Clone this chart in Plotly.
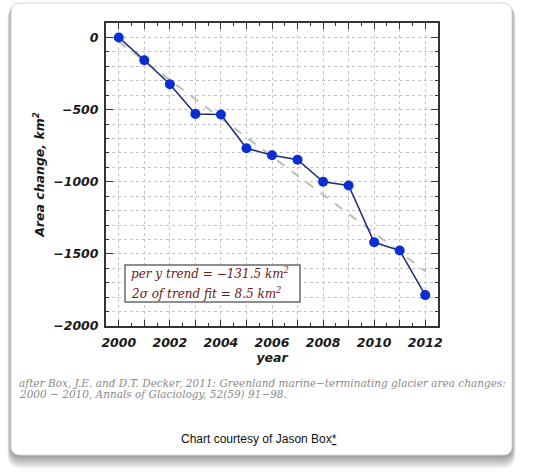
"""
Greenland marine-terminating glacier area change, 2000-2012
"""
import plotly.graph_objects as go

# data
years = [2000, 2001, 2002, 2003, 2004, 2005, 2006, 2007, 2008, 2009, 2010, 2011, 2012]
area_change = [0, -158, -325, -530, -534, -768, -817, -848, -1000, -1026, -1420, -1477, -1786]

trend_years = [2000, 2012]
trend_values = [-30, -1620]

x_tickvals = list(range(2000, 2013))
x_ticktext = [str(y) if y % 2 == 0 else "" for y in x_tickvals]

trend_lines = ["per y trend = \u2212131.5 km<sup>2</sup>",
               "2\u03c3 of trend fit = 8.5 km<sup>2</sup>"]
citation_lines = [
    "after Box, J.E. and D.T. Decker, 2011: Greenland marine\u2212terminating glacier area changes:",
    "2000 \u2212 2010, Annals of Glaciology, 52(59) 91\u221298.",
]
credit = "Chart courtesy of Jason Box<u>*</u>"

# page geometry in pixels
W, H = 536, 474
L, R, T, B = 106, 438, 23, 326


def px(x):
    return (x - L) / (R - L)


def py(y):
    return (B - y) / (B - T)


def rounded_rect(x0, y0, x1, y1, r):
    """SVG path for a rounded rectangle given in pixels, output in paper units"""
    pts = [
        f"M {px(x0 + r)} {py(y0)}",
        f"L {px(x1 - r)} {py(y0)}",
        f"Q {px(x1)} {py(y0)} {px(x1)} {py(y0 + r)}",
        f"L {px(x1)} {py(y1 - r)}",
        f"Q {px(x1)} {py(y1)} {px(x1 - r)} {py(y1)}",
        f"L {px(x0 + r)} {py(y1)}",
        f"Q {px(x0)} {py(y1)} {px(x0)} {py(y1 - r)}",
        f"L {px(x0)} {py(y0 + r)}",
        f"Q {px(x0)} {py(y0)} {px(x0 + r)} {py(y0)}",
        "Z",
    ]
    return " ".join(pts)


tick_font = dict(family="DejaVu Sans", size=12.5, color="#1a1a1a", style="italic", weight="bold")
title_font = dict(family="DejaVu Sans", size=12.5, color="#1a1a1a", style="italic", weight="bold")

fig = go.Figure()

fig.add_trace(go.Scatter(
    x=trend_years, y=trend_values,
    mode="lines",
    line=dict(color="#b9c0b4", width=2, dash="dash"),
    hoverinfo="skip",
    showlegend=False,
))

fig.add_trace(go.Scatter(
    x=years, y=area_change,
    mode="lines+markers",
    line=dict(color="#1f2a7a", width=1.5),
    marker=dict(color="#0b2ed0", size=10),
    showlegend=False,
))

# card with soft shadow
shapes = []
for i in range(6, 0, -1):
    shapes.append(dict(
        type="path", xref="paper", yref="paper", layer="below",
        path=rounded_rect(11 - i * 0.6, 3 + i * 0.3, 512 + i * 0.6, 455 + i * 2.2, 9 + i),
        fillcolor="rgba(0,0,0,0.07)", line=dict(width=0),
    ))
shapes.append(dict(
    type="path", xref="paper", yref="paper", layer="below",
    path=rounded_rect(11, 3, 512, 455, 9),
    fillcolor="white", line=dict(color="#d6d6d6", width=1),
))
# box round the trend text
shapes.append(dict(
    type="rect", xref="paper", yref="paper",
    x0=px(125), x1=px(300), y0=py(302), y1=py(265),
    fillcolor="white", line=dict(color="#6a6a6a", width=1.5),
))

annotations = []
for i, line in enumerate(trend_lines):
    annotations.append(dict(
        xref="paper", yref="paper", x=px(129), y=py(273 + i * 20),
        xanchor="left", yanchor="middle", showarrow=False, text=line,
        font=dict(family="DejaVu Serif", size=12, color="#6e1616", style="italic"),
    ))
for i, line in enumerate(citation_lines):
    annotations.append(dict(
        xref="paper", yref="paper", x=px(17), y=py(383 + i * 11),
        xanchor="left", yanchor="middle", showarrow=False, text=line,
        font=dict(family="DejaVu Serif", size=10.5, color="#8a8a8a", style="italic"),
    ))
annotations.append(dict(
    xref="paper", yref="paper", x=px(259), y=py(439),
    xanchor="center", yanchor="middle", showarrow=False, text=credit,
    font=dict(family="Liberation Sans", size=12, color="#111111"),
))

fig.update_layout(
    width=W, height=H,
    margin=dict(l=L, r=W - R, t=T, b=H - B, pad=0),
    paper_bgcolor="white",
    plot_bgcolor="white",
    shapes=shapes,
    annotations=annotations,
    xaxis=dict(
        range=[1999.5, 2012.5],
        tickvals=x_tickvals, ticktext=x_ticktext,
        ticks="inside", ticklen=6, tickwidth=1.2, tickcolor="#333",
        mirror="allticks", showline=True, linecolor="#333", linewidth=2,
        showgrid=True, gridcolor="#c4c4c4", gridwidth=1, griddash="dot",
        zeroline=False,
        tickfont=tick_font, ticklabelstandoff=4,
        title=dict(text="year", font=title_font, standoff=2),
        minor=dict(dtick=0.5, ticks="inside", ticklen=3, tickcolor="#333", showgrid=False),
    ),
    yaxis=dict(
        range=[-2000, 100],
        dtick=500,
        ticks="inside", ticklen=7, tickwidth=1.2, tickcolor="#333",
        mirror="allticks", showline=True, linecolor="#333", linewidth=2,
        showgrid=True, gridcolor="#c4c4c4", gridwidth=1, griddash="dot",
        zeroline=False,
        tickfont=tick_font, ticklabelstandoff=3,
        title=dict(text="Area change, km<sup>2</sup>", font=title_font, standoff=6),
        minor=dict(dtick=100, ticks="inside", ticklen=3, tickcolor="#333",
                   showgrid=True, gridcolor="#c4c4c4", gridwidth=1, griddash="dot"),
    ),
)

# drop the browser's default body margin so the figure sits at the page corner
fig.write_html("out.html", config={"displayModeBar": False},
               post_script="document.body.style.margin = '0';")
